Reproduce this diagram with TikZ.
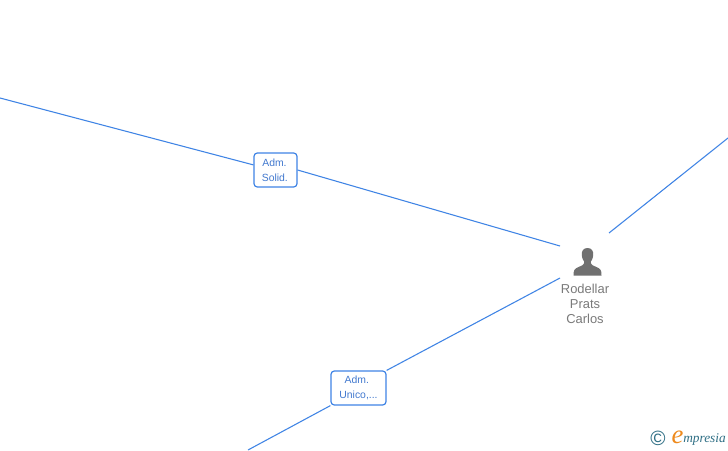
\documentclass[tikz,border=0pt]{standalone}
\usepackage{fontspec}
\usepackage{xcolor}
\setmainfont{Liberation Sans}
\newfontfamily\logofont{Liberation Serif}
\usetikzlibrary{positioning,calc}
\definecolor{linkblue}{HTML}{3F84E5}
\definecolor{roletext}{HTML}{4279CF}
\definecolor{persongray}{HTML}{707070}
\definecolor{nametext}{HTML}{7A7A7A}
\definecolor{logoteal}{HTML}{2F6F85}
\definecolor{logoorange}{HTML}{EE8A1D}
\tikzset{
  rolebox/.style={
    draw=linkblue, fill=white, line width=0.9pt, rounded corners=2.5pt,
    align=center, inner sep=0pt, minimum height=25.5pt,
    text=roletext, font=\fontsize{7.8}{11.2}\selectfont
  },
  namelabel/.style={
    align=center, inner sep=0pt, text=nametext,
    font=\fontsize{9.7}{11.25}\selectfont
  },
  linkline/.style={draw=linkblue, line width=0.8pt}
}
\begin{document}
\begin{tikzpicture}[x=0.75pt,y=-0.75pt]
  \useasboundingbox (0,0) rectangle (728,450);
  \fill[white] (0,0) rectangle (728,450);

  % role boxes
  \node[rolebox,minimum width=32.25pt] (solid) at (275.5,170) {\raisebox{-0.7pt}{Adm.\hspace*{1.5pt}}\\\raisebox{-0.7pt}{Solid.\hspace*{1pt}}};
  \node[rolebox,minimum width=41.25pt] (unico) at (358.5,388) {\raisebox{-1.2pt}{Adm.\hspace*{2.5pt}}\\\raisebox{-1.2pt}{Unico,...}};

  % free ends of the links
  \coordinate (offleft) at (0,98);
  \coordinate (offbottom) at (248,450);
  \coordinate (offright) at (728,138);
  \coordinate (personnw) at (560,246);
  \coordinate (personsw) at (560,278);
  \coordinate (personne) at (609,233);

  \draw[linkline] (offleft) -- (solid.167);
  \draw[linkline] (solid.east) -- (personnw);
  \draw[linkline] (offbottom) -- (unico.south west);
  \draw[linkline] (unico.north east) -- (personsw);
  \draw[linkline] (personne) -- (offright);

  % person
  \fill[persongray] (587.5,248) .. controls (583,248) and (581.5,251.5) .. (581.8,255)
    .. controls (582,258.5) and (583.5,260.5) .. (584.3,262)
    .. controls (584.5,265) and (581,266) .. (578,267.3)
    .. controls (574.5,268.8) and (573.5,270) .. (573.5,275.5)
    -- (601.5,275.5)
    .. controls (601.5,270) and (600.5,268.8) .. (597,267.3)
    .. controls (594,266) and (590.5,265) .. (590.7,262)
    .. controls (591.5,260.5) and (593,258.5) .. (593.2,255)
    .. controls (593.5,251.5) and (592,248) .. (587.5,248) -- cycle;
  \node[namelabel] (rodellar) at (585,304) {Rodellar\\Prats\\Carlos};

  % logo
  \node[inner sep=0pt,text=logoteal,font=\fontsize{15.5}{16}\selectfont] (copy) at (658,438) {©};
  \node[inner sep=0pt,text=logoorange,font=\logofont\itshape\fontsize{20}{20}\selectfont] (logoe) at (677.5,437.5) {e};
  \node[inner sep=0pt,text=logoteal,font=\logofont\itshape\fontsize{10}{10}\selectfont,anchor=west] (logotext) at (683,439) {mpresia};
\end{tikzpicture}
\end{document}
